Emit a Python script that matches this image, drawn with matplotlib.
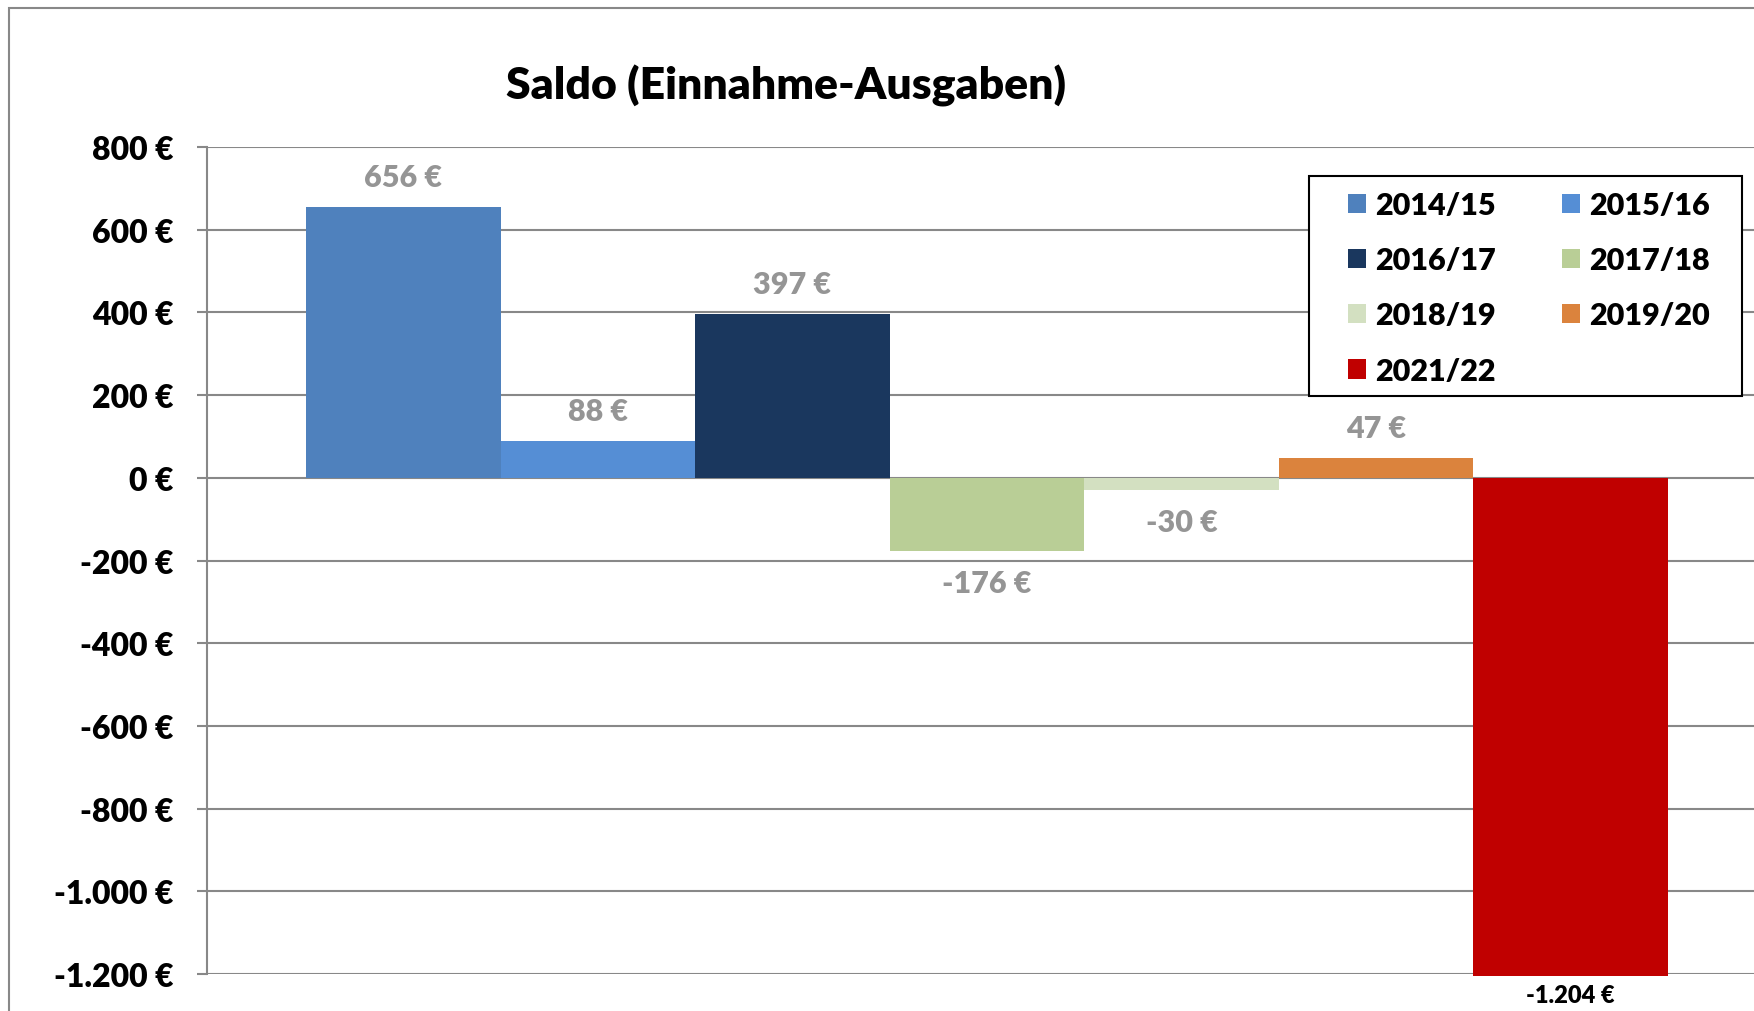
import matplotlib
matplotlib.use("Agg")
import matplotlib.pyplot as plt
from matplotlib.patches import Patch, Rectangle

plt.rcParams['font.family'] = ['Lato', 'DejaVu Sans']

# Daten
jahre = ["2014/15", "2015/16", "2016/17", "2017/18", "2018/19", "2019/20", "2021/22"]
saldo = [656, 88, 397, -176, -30, 47, -1204]
farben = ["#4F81BD", "#558ED5", "#1A375E", "#B9CE96", "#D3E0C1", "#DB833D", "#C00000"]
y_ticks = [-1200, -1000, -800, -600, -400, -200, 0, 200, 400, 600, 800]

GRAU = "#888888"
FETT = 'heavy'


def euro(v):
    s = f"{abs(int(v)):,}".replace(",", ".")
    return ("-" if v < 0 else "") + s + " €"


fig = plt.figure(figsize=(17.54, 10.12), dpi=100)
ax = fig.add_axes([207/1754, 1 - 975/1012, 1547/1754, 827/1012])

# Rahmen um das ganze Diagramm (rechts/unten abgeschnitten)
fig.patches.append(Rectangle((9/1754, -0.05), 1.2, 1 - 9/1012 + 0.05,
                             transform=fig.transFigure, fill=False,
                             edgecolor=GRAU, lw=1.5, zorder=0))

for i, (v, c) in enumerate(zip(saldo, farben)):
    ax.bar(i, v, width=1.0, color=c, clip_on=False, zorder=2)

ax.set_xlim(-1.009, 6.942)
ax.set_ylim(-1200, 800)
ax.set_yticks(y_ticks)
ax.set_yticklabels([euro(t) for t in y_ticks], fontsize=23, fontweight=FETT)
ax.set_xticks([])
ax.set_axisbelow(True)
ax.yaxis.grid(True, color=GRAU, lw=1.5)
ax.tick_params(axis='y', direction='out', length=7.2, width=1.5, color=GRAU, pad=17)
for s in ["top", "right", "bottom"]:
    ax.spines[s].set_visible(False)
ax.spines["left"].set_color(GRAU)
ax.spines["left"].set_linewidth(1.5)

# Datenbeschriftungen
for i, v in enumerate(saldo):
    if v == min(saldo):
        ax.annotate(euro(v), (i, v), xytext=(0, -14), textcoords='offset points',
                    ha='center', va='center', fontsize=17, fontweight=FETT,
                    color='black', annotation_clip=False)
    else:
        off = 21.6 if v > 0 else -23
        ax.annotate(euro(v), (i, v), xytext=(0, off), textcoords='offset points',
                    ha='center', va='center', fontsize=22, fontweight=FETT,
                    color='#959595')

fig.text(786/1754, 1 - 86/1012, "Saldo (Einnahme-Ausgaben)", ha='center', va='center',
         fontsize=32, fontweight=FETT)

# Legende: Rahmen separat, Einträge zeilenweise
fig.patches.append(Rectangle((1309/1754, 1 - 397/1012), 433/1754, 220/1012,
                             transform=fig.transFigure, facecolor='white',
                             edgecolor='black', lw=1.5, zorder=3))
handles = [Patch(facecolor=c, edgecolor='none') for c in farben]
order = [0, 2, 4, 6, 1, 3, 5]
leg = fig.legend([handles[k] for k in order], [jahre[k] for k in order], ncol=2,
                 loc='upper left', bbox_to_anchor=(1348/1754, 1 - 192/1012),
                 frameon=False, borderpad=0, borderaxespad=0,
                 handlelength=0.6, handleheight=0.6, handletextpad=0.3,
                 labelspacing=0.89, columnspacing=2.14,
                 prop={'size': 22, 'weight': FETT})
leg.set_zorder(5)

fig.savefig("out.png", dpi=100)
